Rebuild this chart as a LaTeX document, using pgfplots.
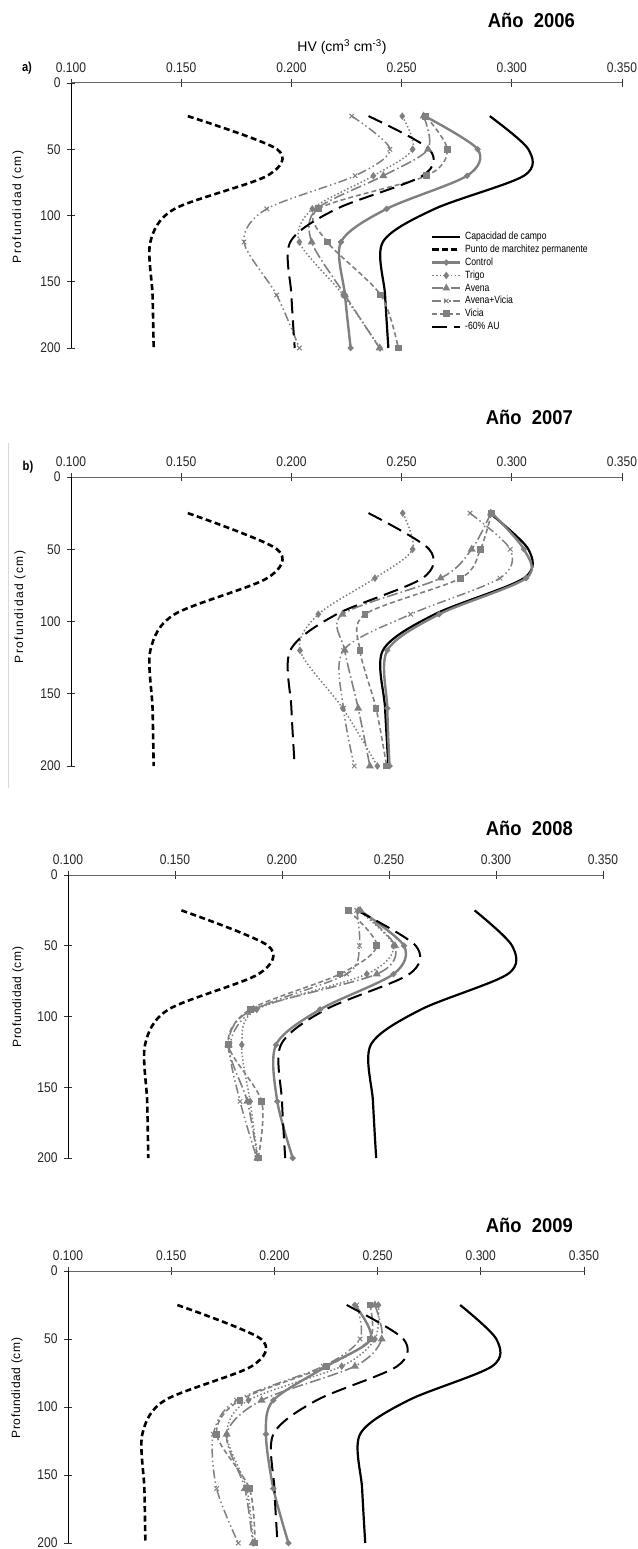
\documentclass[border=0pt]{standalone}
\usepackage{fontspec}
\usepackage{pgfplots}
\usepackage{pgfplotstable}
\pgfplotsset{compat=1.18}
\setmainfont{Liberation Sans}
\newfontfamily\narrowfont[FakeStretch=0.86]{Liberation Sans}
\newfontfamily\legendfamily[FakeStretch=0.82]{Liberation Sans}
\newfontfamily\titlefamily[FakeStretch=0.92]{Liberation Sans}
\newfontfamily\spacedfamily[LetterSpace=12]{Liberation Sans}
\newfontfamily\spacedfamilyb[LetterSpace=5]{Liberation Sans}
\newcommand\tickfont{\narrowfont\fontsize{14}{14}\selectfont}
\newcommand\legfont{\legendfamily\fontsize{10.5}{10.5}\selectfont}

% reference curves (identical in all years)
\pgfplotstableread{
d   cc     pmp    au
25  0.2900 0.1530 0.2350
50  0.3075 0.1935 0.2625
70  0.3055 0.1890 0.2595
95  0.2650 0.1470 0.2205
120 0.2415 0.1360 0.1995
160 0.2425 0.1370 0.2000
200 0.2440 0.1375 0.2015
}\reftab
% 2006
\pgfplotstableread{
d   ctl    tri    ave    avi    vic
25  0.2605 0.2503 0.2600 0.2274 0.2610
50  0.2845 0.2550 0.2620 0.2447 0.2707
70  0.2797 0.2372 0.2417 0.2289 0.2613
95  0.2432 0.2095 0.2115 0.1888 0.2122
120 0.2225 0.2036 0.2092 0.1785 0.2163
160 0.2243 0.2235 0.2243 0.1933 0.2405
200 0.2269 0.2402 0.2400 0.2036 0.2485
}\taba
% 2007
\pgfplotstableread{
d   ctl    tri    ave    avi    vic
25  0.2910 0.2505 0.2905 0.2810 0.2908
50  0.3055 0.2550 0.2818 0.2993 0.2858
70  0.3065 0.2379 0.2677 0.2946 0.2768
95  0.2670 0.2122 0.2232 0.2541 0.2334
120 0.2435 0.2039 0.2242 0.2236 0.2311
160 0.2435 0.2233 0.2303 0.2236 0.2384
200 0.2445 0.2390 0.2356 0.2285 0.2432
}\tabb
% 2008
\pgfplotstableread{
d   ctl    tri    ave    avi    vic
25  0.2365 0.2357 0.2365 0.2349 0.2310
50  0.2570 0.2521 0.2528 0.2362 0.2443
70  0.2521 0.2396 0.2443 0.2302 0.2271
95  0.2178 0.1882 0.1866 0.1874 0.1851
120 0.1972 0.1812 0.1749 0.1757 0.1749
160 0.1978 0.1851 0.1838 0.1804 0.1905
200 0.2050 0.1887 0.1885 0.1882 0.1889
}\tabc
% 2009
\pgfplotstableread{
d   ctl    tri    ave    avi    vic
25  0.2390 0.2504 0.2487 0.2399 0.2463
50  0.2467 0.2487 0.2520 0.2415 0.2463
70  0.2253 0.2326 0.2390 0.2237 0.2253
95  0.1995 0.1874 0.1938 0.1817 0.1833
120 0.1959 0.1769 0.1769 0.1704 0.1720
160 0.1995 0.1866 0.1857 0.1720 0.1879
200 0.2068 0.1898 0.1895 0.1825 0.1906
}\tabd

\pgfplotsset{
 panel/.style={
  scale only axis, anchor=north west,
  xmin=0.1, xmax=0.35, ymin=-200, ymax=0,
  enlargelimits=false, clip=false,
  axis x line=top, axis y line=left,
  axis line style={-},
  x axis line style={draw=black!60, line width=1pt},
  y axis line style={draw=black, line width=0.9pt},
  xtick={0.1,0.15,0.2,0.25,0.3,0.35},
  xticklabels={0.100,0.150,0.200,0.250,0.300,0.350},
  ytick={-200,-150,-100,-50,0},
  yticklabels={200,150,100,50,0},
  tick align=center, major tick length=8pt,
  tick style={black!80, line width=0.8pt},
  tick label style={font=\tickfont, text=black!85},
  xticklabel shift=3pt, yticklabel shift=3pt,
 },
 scc/.style={black, line width=2.2pt, smooth, mark=none},
 spmp/.style={black, line width=2.6pt, smooth, mark=none, dash pattern=on 6pt off 3.5pt},
 sau/.style={black, line width=2pt, smooth, mark=none, dash pattern=on 15pt off 7pt},
 sctl/.style={black!50, line width=2.4pt, smooth, mark=*, mark size=1.6pt, mark options={solid}},
 stri/.style={black!50, line width=1.5pt, smooth, dash pattern=on 1.5pt off 2.2pt, mark=diamond*, mark size=2.6pt, mark options={solid}},
 save/.style={black!50, line width=1.6pt, smooth, dash pattern=on 11pt off 3pt on 1.5pt off 3pt, mark=triangle*, mark size=3pt, mark options={solid}},
 savi/.style={black!50, line width=1.5pt, smooth, dash pattern=on 9pt off 3pt on 1.5pt off 3pt on 1.5pt off 3pt, mark=x, mark size=3.2pt, mark options={solid, line width=1pt}},
 svic/.style={black!50, line width=1.6pt, smooth, dash pattern=on 5pt off 3pt, mark=square*, mark size=2.6pt, mark options={solid}},
}

\newcommand\allplots[1]{%
  \addplot[scc]  table[x=cc,  y expr=-\thisrow{d}] {\reftab};
  \addplot[spmp] table[x=pmp, y expr=-\thisrow{d}] {\reftab};
  \addplot[sctl] table[x=ctl, y expr=-\thisrow{d}] {#1};
  \addplot[stri] table[x=tri, y expr=-\thisrow{d}] {#1};
  \addplot[save] table[x=ave, y expr=-\thisrow{d}] {#1};
  \addplot[savi] table[x=avi, y expr=-\thisrow{d}] {#1};
  \addplot[svic] table[x=vic, y expr=-\thisrow{d}] {#1};
  \addplot[sau]  table[x=au,  y expr=-\thisrow{d}] {\reftab};
}

\begin{document}
\begin{tikzpicture}[x=1pt,y=1pt]
\path[use as bounding box] (0pt,0pt) rectangle (637pt,-1549pt);

% ---------- 2006
\node[anchor=east, inner sep=0] at (575pt,-20pt) {\titlefamily\bfseries\fontsize{20}{20}\selectfont Año\ \ 2006};
\node[inner sep=0] at (342pt,-47pt) {\fontsize{14}{14}\selectfont HV (cm\textsuperscript{3} cm\textsuperscript{-3})};
\node[inner sep=0] at (27pt,-68pt) {\narrowfont\bfseries\fontsize{13}{13}\selectfont a)};
\node[rotate=90, inner sep=0] at (18pt,-207pt) {\spacedfamily\fontsize{12}{12}\selectfont Profundidad (cm)};
\begin{axis}[panel, at={(71pt,-83pt)}, width=551pt, height=265pt,
  legend style={at={(rel axis cs:0.653,0.44)}, anchor=north west, draw=none, fill=none,
    font=\legfont, row sep=2.6pt, column sep=3pt, inner sep=0pt, nodes={inner sep=0.6pt}},
  legend cell align=left,
  legend image code/.code={\draw[mark repeat=2,mark phase=2,#1] plot coordinates {(0pt,0pt) (14pt,0pt) (28pt,0pt)};},
  legend entries={Capacidad de campo, Punto de marchitez permanente, Control, Trigo, Avena, Avena+Vicia, Vicia, -60\% AU}]
\allplots{\taba}
\end{axis}

% ---------- 2007
\draw[black!15, line width=0.8pt] (8pt,-443pt) -- (8pt,-788pt);
\node[anchor=east, inner sep=0] at (573pt,-417pt) {\titlefamily\bfseries\fontsize{20}{20}\selectfont Año\ \ 2007};
\node[inner sep=0] at (28pt,-467pt) {\narrowfont\bfseries\fontsize{13}{13}\selectfont b)};
\node[rotate=90, inner sep=0] at (20pt,-607pt) {\spacedfamily\fontsize{12}{12}\selectfont Profundidad (cm)};
\begin{axis}[panel, at={(71pt,-477pt)}, width=551pt, height=289pt]
\allplots{\tabb}
\end{axis}

% ---------- 2008
\node[anchor=east, inner sep=0] at (573pt,-828pt) {\titlefamily\bfseries\fontsize{20}{20}\selectfont Año\ \ 2008};
\node[rotate=90, inner sep=0] at (18pt,-997pt) {\spacedfamilyb\fontsize{12}{12}\selectfont Profundidad (cm)};
\begin{axis}[panel, at={(68pt,-875pt)}, width=535pt, height=283pt]
\allplots{\tabc}
\end{axis}

% ---------- 2009
\node[anchor=east, inner sep=0] at (573pt,-1225pt) {\titlefamily\bfseries\fontsize{20}{20}\selectfont Año\ \ 2009};
\node[rotate=90, inner sep=0] at (17pt,-1388pt) {\spacedfamilyb\fontsize{12}{12}\selectfont Profundidad (cm)};
\begin{axis}[panel, at={(68pt,-1271pt)}, width=516pt, height=272pt]
\allplots{\tabd}
\end{axis}
\end{tikzpicture}
\end{document}
